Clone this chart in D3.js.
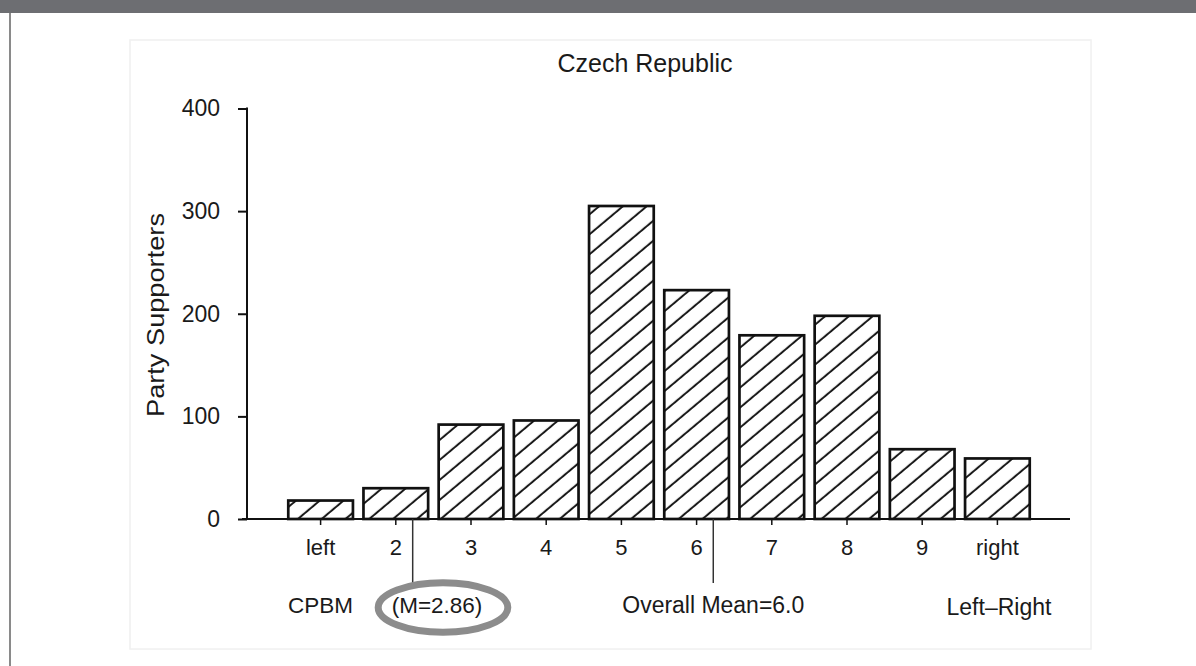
<!DOCTYPE html>
<html>
<head>
<meta charset="utf-8">
<script src="https://cdn.jsdelivr.net/npm/d3@7"></script>
<style>
  html, body { margin: 0; padding: 0; background: #fff; }
  svg { display: block; }
  text { font-family: "Liberation Sans", Arial, Helvetica, sans-serif; fill: #1a1a1a; }
</style>
</head>
<body>
<svg id="chart" width="1196" height="666"></svg>
<script>
// Left-right self placement of party supporters, Czech Republic
const categories = ["left", "2", "3", "4", "5", "6", "7", "8", "9", "right"];
const supporters = [18, 30, 92, 96, 305, 223, 179, 198, 68, 59];
const yTicks = [0, 100, 200, 300, 400];
const partyName = "CPBM";
const partyMean = 2.86;
const overallMean = 6.0;

const svg = d3.select("#chart");
const W = 1196, H = 666;

// page furniture: header strip, page rule and the figure box
svg.append("rect").attr("x", 0).attr("y", 0).attr("width", W).attr("height", 13).attr("fill", "#6d6e72");
svg.append("line").attr("x1", 10).attr("x2", 10).attr("y1", 13).attr("y2", H)
  .attr("stroke", "#8a8a8a").attr("stroke-width", 2);
svg.append("rect").attr("x", 130).attr("y", 40).attr("width", 961).attr("height", 609)
  .attr("fill", "none").attr("stroke", "#f0f0f0").attr("stroke-width", 1.5);

// diagonal hatch used to fill the bars
const defs = svg.append("defs");
const hatch = defs.append("pattern")
  .attr("id", "hatch")
  .attr("patternUnits", "userSpaceOnUse")
  .attr("width", 15.3).attr("height", 15.3)
  .attr("patternTransform", "rotate(50)");
hatch.append("rect").attr("width", 15.3).attr("height", 15.3).attr("fill", "#fff");
hatch.append("line").attr("x1", 7.6).attr("x2", 7.6).attr("y1", 0).attr("y2", 15.3)
  .attr("stroke", "#1a1a1a").attr("stroke-width", 2);

// scales
const axisX = 247;
const x = d3.scaleBand(categories, [283, 1035]).paddingInner(0.14).paddingOuter(0.07);
const y = d3.scaleLinear([0, 400], [519, 108.5]);
// placement of the mean markers along the left-right dimension
const meanX = d3.scaleLinear([0, 10], [138.9, 1096.2]);

// bars
svg.append("g").selectAll("rect")
  .data(supporters)
  .join("rect")
  .attr("x", (d, i) => x(categories[i]))
  .attr("y", d => y(d))
  .attr("width", x.bandwidth())
  .attr("height", d => y(0) - y(d))
  .attr("fill", "url(#hatch)")
  .attr("stroke", "#111")
  .attr("stroke-width", 2.7);

// y axis
const yAxis = svg.append("g")
  .attr("transform", `translate(${axisX},0)`)
  .call(d3.axisLeft(y).tickValues(yTicks).tickSize(9).tickPadding(18));
yAxis.select(".domain").remove();
yAxis.append("line").attr("x1", 0).attr("x2", 0).attr("y1", y(400) - 1).attr("y2", y(0))
  .attr("stroke", "#111").attr("stroke-width", 2);
yAxis.selectAll(".tick line").attr("stroke", "#111").attr("stroke-width", 2);
yAxis.selectAll(".tick text")
  .attr("font-size", 23)
  .attr("font-family", "Liberation Sans, Arial, sans-serif")
  .attr("fill", "#1a1a1a");

// x axis
const xAxis = svg.append("g")
  .attr("transform", `translate(0,${y(0)})`)
  .call(d3.axisBottom(x).tickSize(6).tickPadding(14));
xAxis.select(".domain").remove();
xAxis.append("line").attr("x1", axisX - 5).attr("x2", 1070).attr("y1", 0).attr("y2", 0)
  .attr("stroke", "#111").attr("stroke-width", 2);
xAxis.selectAll(".tick line").attr("stroke", "#111").attr("stroke-width", 1.5);
xAxis.selectAll(".tick text")
  .attr("font-size", 22)
  .attr("font-family", "Liberation Sans, Arial, sans-serif")
  .attr("fill", "#1a1a1a");

// title and axis title
svg.append("text")
  .attr("x", 645).attr("y", 72)
  .attr("text-anchor", "middle")
  .attr("font-size", 25)
  .text("Czech Republic");

svg.append("text")
  .attr("transform", "translate(164,315) rotate(-90)")
  .attr("text-anchor", "middle")
  .attr("font-size", 23)
  .attr("textLength", 204)
  .attr("lengthAdjust", "spacingAndGlyphs")
  .text("Party Supporters");

// mean markers
const means = [partyMean, overallMean];
svg.append("g").selectAll("line")
  .data(means)
  .join("line")
  .attr("x1", d => meanX(d)).attr("x2", d => meanX(d))
  .attr("y1", y(0)).attr("y2", 583)
  .attr("stroke", "#333").attr("stroke-width", 1.5);

// bottom row annotations
const rowY = 613;
svg.append("text")
  .attr("x", x(categories[0]) + x.bandwidth() / 2).attr("y", rowY)
  .attr("text-anchor", "middle").attr("font-size", 22.5)
  .text(partyName);

svg.append("text")
  .attr("x", 437).attr("y", rowY)
  .attr("text-anchor", "middle").attr("font-size", 22.5)
  .text(`(M=${partyMean.toFixed(2)})`);

svg.append("ellipse")
  .attr("cx", 443).attr("cy", 607.5)
  .attr("rx", 64.8).attr("ry", 24.8)
  .attr("fill", "none")
  .attr("stroke", "#8c8c8c")
  .attr("stroke-width", 7);

svg.append("text")
  .attr("x", meanX(overallMean)).attr("y", rowY)
  .attr("text-anchor", "middle").attr("font-size", 23)
  .attr("textLength", 182)
  .attr("lengthAdjust", "spacingAndGlyphs")
  .text(`Overall Mean=${overallMean.toFixed(1)}`);

svg.append("text")
  .attr("x", 999).attr("y", 615)
  .attr("text-anchor", "middle").attr("font-size", 23)
  .attr("textLength", 105)
  .attr("lengthAdjust", "spacingAndGlyphs")
  .text("Left–Right");
</script>
</body>
</html>
